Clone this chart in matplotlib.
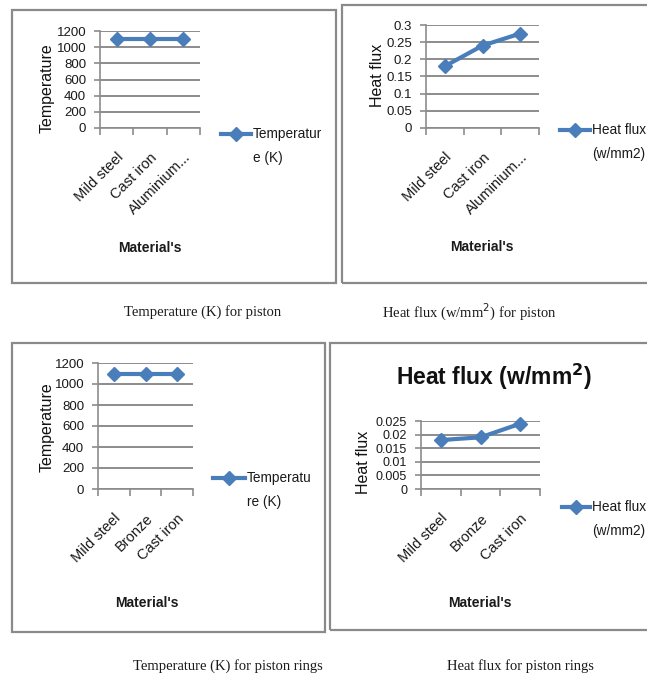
import matplotlib
matplotlib.use("Agg")
import matplotlib.pyplot as plt
from matplotlib.patches import Rectangle
from matplotlib.lines import Line2D
from matplotlib.ticker import FuncFormatter, MultipleLocator

W, H = 647, 679
SANS = ['Liberation Sans', 'DejaVu Sans']
SERIF = ['Liberation Serif', 'DejaVu Serif']
BLUE = '#4a7ebb'
GRID = '#8c8c8c'
TXT = '#1a1a1a'

# ---- data ----
piston_materials = ['Mild steel', 'Cast iron', 'Aluminium...']
piston_temp = [1100, 1100, 1100]
piston_flux = [0.18, 0.24, 0.275]
ring_materials = ['Mild steel', 'Bronze', 'Cast iron']
ring_temp = [1100, 1100, 1100]
ring_flux = [0.018, 0.019, 0.024]

fig = plt.figure(figsize=(W / 100, H / 100), dpi=100)


def fx(px):
    return px / W


def fy(py):
    return 1 - py / H


def box(x0, y0, x1, y1):
    fig.patches.append(Rectangle((fx(x0), fy(y1)), fx(x1) - fx(x0), fy(y0) - fy(y1),
                                 transform=fig.transFigure, fill=False,
                                 edgecolor='#8a8a8a', linewidth=1.6))


def legend(x0, x1, y, label):
    xm = (x0 + x1) / 2
    fig.add_artist(Line2D([fx(x0), fx(xm), fx(x1)], [fy(y)] * 3, transform=fig.transFigure,
                          color=BLUE, linewidth=3, marker='D', markersize=6.8, markevery=[1]))
    fig.text(fx(x1 + 2), fy(y - 7), label, ha='left', va='top', fontsize=9.8,
             family=SANS, color=TXT, linespacing=1.95)


def panel(rect, cats, vals, ymax, ystep, ylabel, ylab_xy, xlab_xy, tick_fs=9.5):
    l, r, t, b = rect
    ax = fig.add_axes([fx(l), fy(b), fx(r) - fx(l), fy(t) - fy(b)])
    x = list(range(len(cats)))
    ax.plot(x, vals, color=BLUE, linewidth=3, marker='D', markersize=6.8,
            markerfacecolor=BLUE, markeredgecolor=BLUE, zorder=3, clip_on=False)
    ax.set_xlim(-0.5, len(cats) - 0.5)
    ax.set_ylim(0, ymax)
    ax.yaxis.set_major_locator(MultipleLocator(ystep))
    ax.yaxis.set_major_formatter(FuncFormatter(lambda v, p: ('%.4f' % v).rstrip('0').rstrip('.') if v else '0'))
    ax.grid(axis='y', color=GRID, linewidth=1.4)
    ax.set_axisbelow(True)
    for s in ['top', 'right']:
        ax.spines[s].set_visible(False)
    for s in ['left', 'bottom']:
        ax.spines[s].set_color(GRID)
        ax.spines[s].set_linewidth(1.2)
    ax.set_xticks([i - 0.5 for i in range(len(cats) + 1)])
    ax.set_xticklabels([])
    ax.set_xticks(x, minor=True)
    ax.set_xticklabels(cats, minor=True, rotation=45, ha='right', va='top',
                       rotation_mode='anchor', fontsize=10.5, family=SANS, color=TXT)
    ax.tick_params(axis='x', which='major', length=5, color=GRID, width=1.2)
    ax.tick_params(axis='x', which='minor', length=0, pad=16)
    ax.tick_params(axis='y', length=4, color=GRID, width=1.2, pad=6, labelsize=tick_fs,
                   labelcolor=TXT)
    for lab in ax.get_yticklabels():
        lab.set_family(SANS)
    fig.text(fx(ylab_xy[0]), fy(ylab_xy[1]), ylabel, rotation=90, ha='center', va='center',
             fontsize=11.5, family=SANS, color='#111111')
    fig.text(fx(xlab_xy[0]), fy(xlab_xy[1]), "Material's", ha='center', va='center',
             fontsize=10, fontweight='bold', family=SANS, color=TXT)
    return ax


# panel borders
box(12, 10, 336, 283)
box(342, 5, 660, 283)
box(12, 343, 325, 632)
box(330, 343, 660, 630)

panel((100, 200, 31, 128), piston_materials, piston_temp, 1200, 200, 'Temperature', (47, 88), (150, 248))
legend(221, 251, 134, 'Temperatur\ne (K)')
panel((426, 539, 25, 128), piston_materials, piston_flux, 0.3, 0.05, 'Heat flux', (377, 75), (482, 247))
legend(560, 590, 130, 'Heat flux\n(w/mm2)')
panel((98, 193, 363, 489), ring_materials, ring_temp, 1200, 200, 'Temperature', (47, 427), (147, 603))
legend(213, 245, 478, 'Temperatu\nre (K)')
panel((421, 540, 421, 489), ring_materials, ring_flux, 0.025, 0.005, 'Heat flux', (364, 462), (480, 603),
      tick_fs=9)
legend(562, 590, 507, 'Heat flux\n(w/mm2)')

fig.text(fx(494), fy(377), 'Heat flux (w/mm$^\\mathbf{2}$)', ha='center', va='center',
         fontsize=16.5, fontweight='bold', family=SANS, color='#111111')

# captions
fig.text(fx(203), fy(312), 'Temperature (K) for piston', ha='center', va='center',
         fontsize=10.5, family=SERIF, color=TXT)
fig.text(fx(469), fy(312), 'Heat flux (w/mm$^2$) for piston', ha='center', va='center',
         fontsize=10.5, family=SERIF, color=TXT)
fig.text(fx(228), fy(666), 'Temperature (K) for piston rings', ha='center', va='center',
         fontsize=10.5, family=SERIF, color=TXT)
fig.text(fx(520), fy(666), 'Heat flux for piston rings', ha='center', va='center',
         fontsize=10.5, family=SERIF, color=TXT)

fig.savefig('out.png', dpi=100)
